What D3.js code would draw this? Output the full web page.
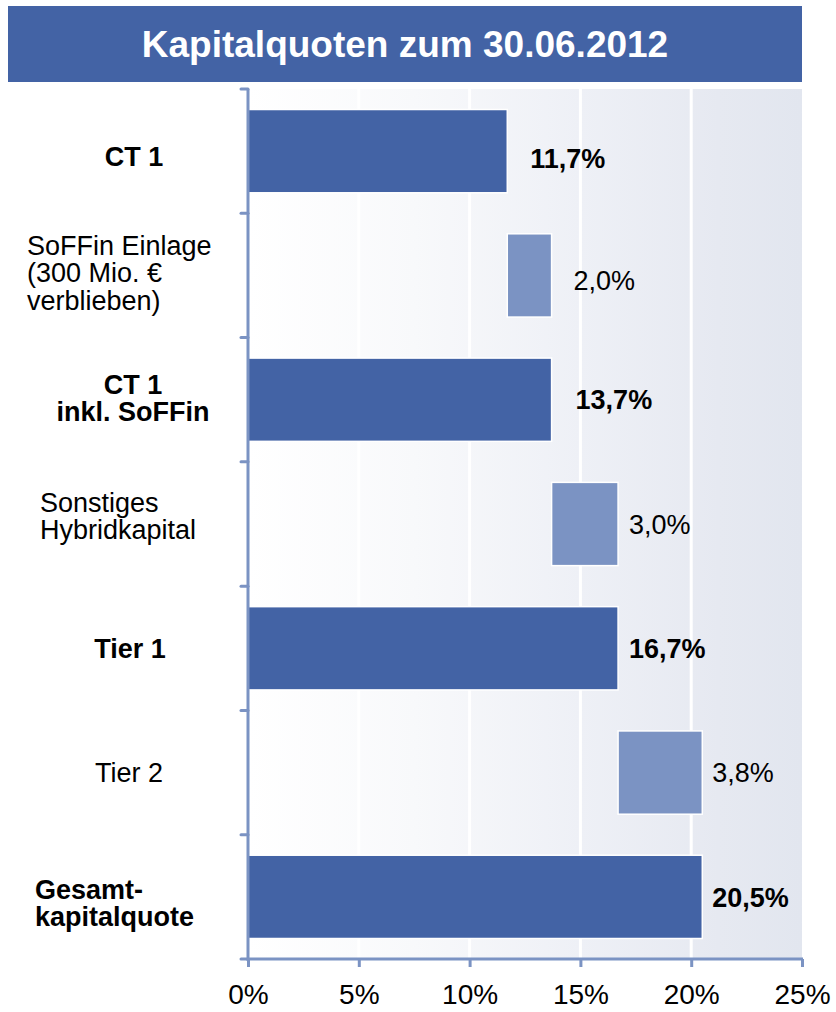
<!DOCTYPE html>
<html>
<head>
<meta charset="utf-8">
<script src="https://cdn.jsdelivr.net/npm/d3@7"></script>
<style>
  body { margin: 0; background: #fff; }
  svg { display: block; font-family: "Liberation Sans", Arial, sans-serif; }
</style>
</head>
<body>
<svg id="chart" width="836" height="1012"></svg>
<script>
// data
var title = "Kapitalquoten zum 30.06.2012";
var categories = [
    ["CT 1"],
    ["SoFFin Einlage", "(300 Mio. €", "verblieben)"],
    ["CT 1", "inkl. SoFFin"],
    ["Sonstiges", "Hybridkapital"],
    ["Tier 1"],
    ["Tier 2"],
    ["Gesamt-", "kapitalquote"]
];
var barStart = [0, 11.7, 0, 13.7, 0, 16.7, 0];
var barValue = [11.7, 2.0, 13.7, 3.0, 16.7, 3.8, 20.5];
var isTotal = [true, false, true, false, true, false, true];
var xTicks = [0, 5, 10, 15, 20, 25];

var dark = "#4363a5", light = "#7b93c3", axisColor = "#7b93c3";

// label placement per row
var labelLayout = [
    {anchor: "middle", x: 134, dy: 5, valGap: 23, valDy: 7},
    {anchor: "start", x: 27, dy: -3, valGap: 22, valDy: 5},
    {anchor: "middle", x: 133, dy: -2, valGap: 24, valDy: 0},
    {anchor: "start", x: 40, dy: -8, valGap: 11, valDy: 0},
    {anchor: "middle", x: 130, dy: 0, valGap: 11, valDy: 0},
    {anchor: "middle", x: 129, dy: 0, valGap: 10, valDy: 0},
    {anchor: "start", x: 35, dy: 6, valGap: 10, valDy: 0}
];

var svg = d3.select("#chart");

var x = d3.scaleLinear().domain([0, 25]).range([248, 802]);
var y = d3.scaleBand()
    .domain(d3.range(categories.length))
    .range([89, 959])
    .paddingInner(0.33)
    .paddingOuter(0.165);

var fmt = function(v) { return d3.format(".1f")(v).replace(".", ",") + "%"; };

// title bar
svg.append("rect")
    .attr("x", 8).attr("y", 6)
    .attr("width", 794).attr("height", 76)
    .attr("fill", dark);

svg.append("text")
    .attr("x", 405).attr("y", 57)
    .attr("text-anchor", "middle")
    .attr("fill", "white")
    .attr("font-weight", "bold")
    .attr("font-size", 37)
    .text(title);

// plot background with gradient
var defs = svg.append("defs");
var grad = defs.append("linearGradient").attr("id", "bg")
    .attr("x1", "0%").attr("x2", "100%").attr("y1", "0%").attr("y2", "0%");
grad.append("stop").attr("offset", "0%").attr("stop-color", "#ffffff");
grad.append("stop").attr("offset", "30%").attr("stop-color", "#f8f9fb");
grad.append("stop").attr("offset", "60%").attr("stop-color", "#eef0f6");
grad.append("stop").attr("offset", "85%").attr("stop-color", "#e6e9f1");
grad.append("stop").attr("offset", "100%").attr("stop-color", "#e2e6ef");

svg.append("rect")
    .attr("x", x(0)).attr("y", 89)
    .attr("width", x(25) - x(0)).attr("height", 959 - 89)
    .attr("fill", "url(#bg)");

// white gridlines
svg.append("g")
    .selectAll("line")
    .data(xTicks.slice(1, -1))
    .enter().append("line")
    .attr("x1", function(d) { return x(d); })
    .attr("x2", function(d) { return x(d); })
    .attr("y1", 89).attr("y2", 959)
    .attr("stroke", "white")
    .attr("stroke-width", 3);

// bars
svg.append("g")
    .selectAll("rect")
    .data(barValue)
    .enter().append("rect")
    .attr("x", function(d, i) { return x(barStart[i]); })
    .attr("y", function(d, i) { return y(i); })
    .attr("width", function(d, i) { return x(barStart[i] + d) - x(barStart[i]); })
    .attr("height", y.bandwidth())
    .attr("fill", function(d, i) { return isTotal[i] ? dark : light; })
    .attr("stroke", "white")
    .attr("stroke-width", 1.5);

// value labels
svg.append("g")
    .selectAll("text")
    .data(barValue)
    .enter().append("text")
    .attr("x", function(d, i) { return x(barStart[i] + d) + labelLayout[i].valGap; })
    .attr("y", function(d, i) { return y(i) + y.bandwidth() / 2 + labelLayout[i].valDy; })
    .attr("dy", "0.36em")
    .attr("font-size", 27)
    .attr("font-weight", function(d, i) { return isTotal[i] ? "bold" : "normal"; })
    .attr("fill", "#000")
    .text(function(d) { return fmt(d); });

// category labels
var lineH = 27.5;
var cat = svg.append("g")
    .selectAll("text")
    .data(categories)
    .enter().append("text")
    .attr("x", function(d, i) { return labelLayout[i].x; })
    .attr("y", function(d, i) {
        return y(i) + y.bandwidth() / 2 + labelLayout[i].dy - (d.length - 1) * lineH / 2;
    })
    .attr("text-anchor", function(d, i) { return labelLayout[i].anchor; })
    .attr("font-size", 27)
    .attr("font-weight", function(d, i) { return isTotal[i] ? "bold" : "normal"; })
    .attr("fill", "#000");

cat.each(function(lines) {
    var t = d3.select(this);
    var x0 = t.attr("x");
    lines.forEach(function(s, k) {
        t.append("tspan")
            .attr("x", x0)
            .attr("dy", k == 0 ? "0.36em" : lineH)
            .text(s);
    });
});

// y axis with ticks at band boundaries
var yBounds = d3.range(categories.length + 1).map(function(k) { return 89 + k * y.step(); });

svg.append("line")
    .attr("x1", x(0)).attr("x2", x(0))
    .attr("y1", 89).attr("y2", 961)
    .attr("stroke", axisColor).attr("stroke-width", 3);

svg.append("g")
    .selectAll("line")
    .data(yBounds)
    .enter().append("line")
    .attr("x1", x(0) - 7).attr("x2", x(0))
    .attr("y1", function(d) { return d; })
    .attr("y2", function(d) { return d; })
    .attr("stroke", axisColor).attr("stroke-width", 3)
    .attr("stroke-linecap", "round");

// x axis
var xAxis = d3.axisBottom(x)
    .tickValues(xTicks)
    .tickSize(8)
    .tickPadding(17)
    .tickFormat(function(d) { return d + "%"; });

var gx = svg.append("g")
    .attr("transform", "translate(0,959)")
    .call(xAxis);

gx.select(".domain")
    .attr("d", "M" + (x(0) - 1) + ",0H" + (x(25) + 1))
    .attr("stroke", axisColor).attr("stroke-width", 3);
gx.selectAll(".tick line")
    .attr("stroke", axisColor).attr("stroke-width", 3);
gx.selectAll(".tick text")
    .attr("font-size", 28)
    .attr("font-family", "Liberation Sans, Arial, sans-serif")
    .attr("fill", "#000");
</script>
</body>
</html>
